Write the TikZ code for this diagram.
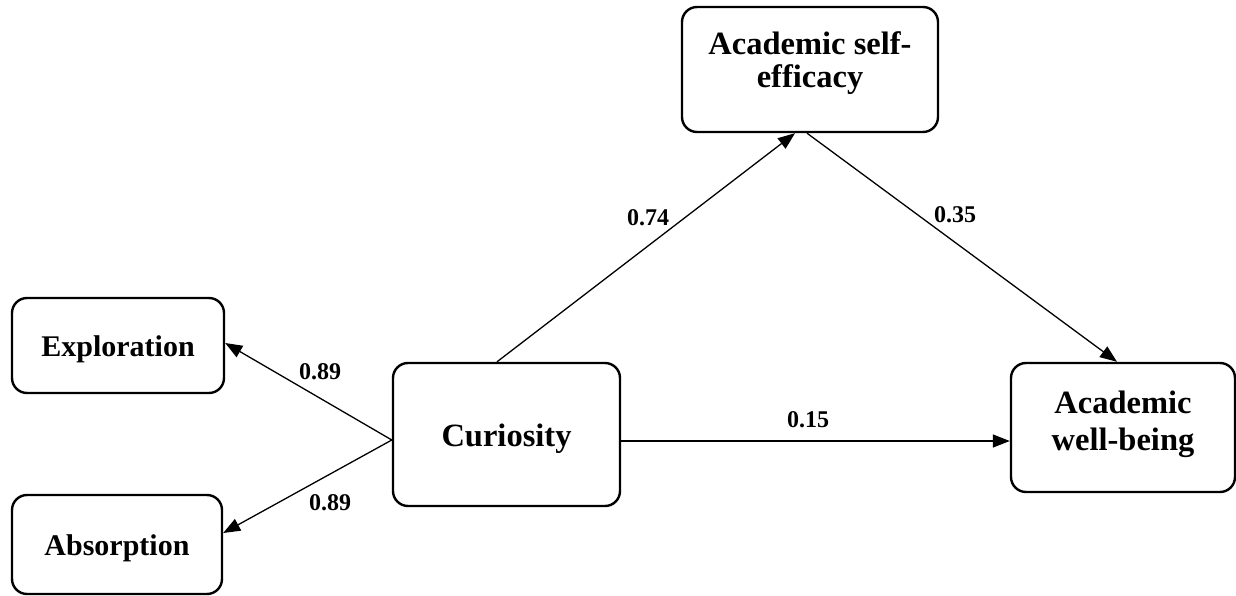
\documentclass[tikz,border=0pt]{standalone}
\usepackage{fontspec}
\setmainfont{Liberation Serif}
\usetikzlibrary{arrows.meta}
\begin{document}
\begin{tikzpicture}[x=1pt,y=-1pt,
  box/.style={draw=black, line width=2.4pt, rounded corners=15pt, fill=white, inner sep=0pt},
  boxtext/.style={font=\bfseries, align=center, inner sep=0pt},
  conn/.style={line width=1.3pt, -{Triangle[length=17pt,width=13pt]}},
  lab/.style={font=\fontsize{24}{26}\selectfont\bfseries, inner sep=0pt}]
\useasboundingbox (0,0) rectangle (1236,596);

% boxes
\node[box, minimum width=212pt, minimum height=95pt] (expl) at (118,345.5) {};
\node[boxtext, font=\fontsize{30}{32}\selectfont\bfseries] (expltxt) at ([yshift=-4pt]expl.center) {Exploration};

\node[box, minimum width=210pt, minimum height=99pt] (absorp) at (117,544.5) {};
\node[boxtext, font=\fontsize{30}{32}\selectfont\bfseries] (absorptxt) at ([yshift=-4pt]absorp.center) {Absorption};

\node[box, minimum width=227pt, minimum height=143pt] (cur) at (506.5,434.5) {};
\node[boxtext, font=\fontsize{32.5}{34}\selectfont\bfseries] (curtxt) at ([yshift=-4pt]cur.center) {Curiosity};

\node[box, minimum width=256pt, minimum height=125pt] (se) at (810,69.5) {};
\node[boxtext, font=\fontsize{32.5}{33}\selectfont\bfseries] (setxt) at ([yshift=6pt]se.center) {Academic self-\\efficacy};

\node[box, minimum width=224pt, minimum height=129pt] (wb) at (1123,427.5) {};
\node[boxtext, font=\fontsize{32.5}{37}\selectfont\bfseries] (wbtxt) at ([yshift=3pt]wb.center) {Academic\\well-being};

% connector origin on Curiosity's left side
\coordinate (cl) at ([yshift=-5.5pt]cur.west);

% connectors
\draw[conn] (cl) -- ([yshift=2.5pt]expl.east);
\draw[conn] (cl) -- ([yshift=11.5pt]absorp.east);
\draw[conn] ([xshift=-9.5pt]cur.north) -- ([xshift=-15pt]se.south);
\draw[conn] ([xshift=-3pt]se.south) -- ([xshift=-6pt]wb.north);
\draw[conn] ([yshift=-6.5pt]cur.east) -- ([yshift=-13.5pt]wb.west);

% labels
\node[lab] (l1) at (320,372) {0.89};
\node[lab] (l2) at (330,503) {0.89};
\node[lab] (l3) at (648,218) {0.74};
\node[lab] (l4) at (955,215) {0.35};
\node[lab] (l5) at (808,420) {0.15};
\end{tikzpicture}
\end{document}
